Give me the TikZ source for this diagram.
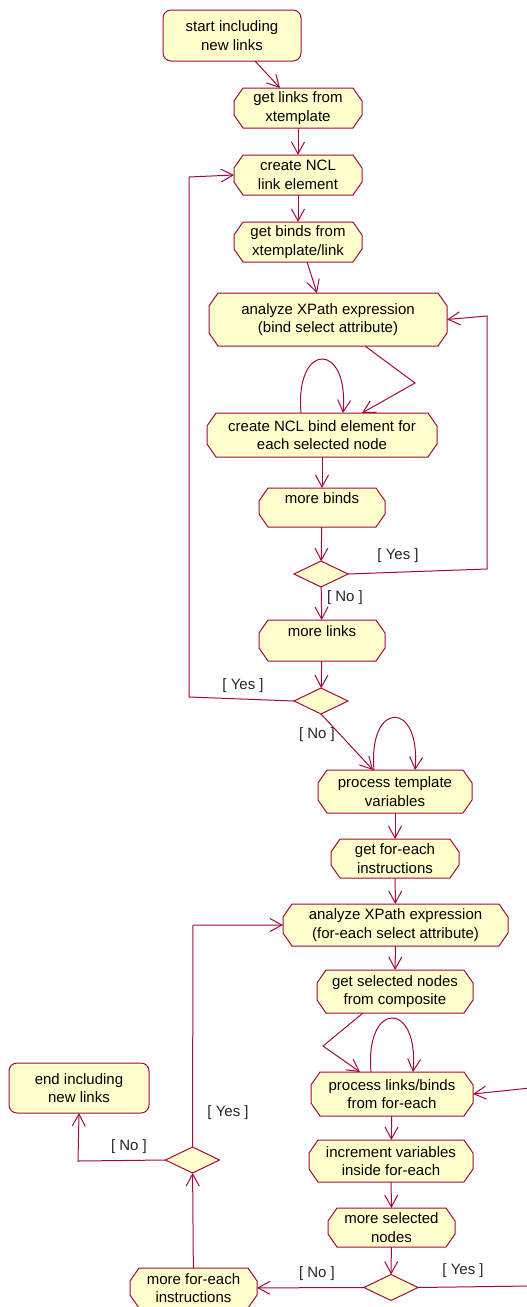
\documentclass[tikz,border=0pt]{standalone}
\usepackage{fontspec}
\setmainfont{Liberation Sans}
\usetikzlibrary{shapes.geometric,arrows.meta,backgrounds}
\definecolor{roseline}{RGB}{160,10,60}
\definecolor{rosefill}{RGB}{255,255,204}
\begin{document}
\begin{tikzpicture}[x=1pt,y=-1pt,line width=1pt,inner sep=0pt,outer sep=0pt,
    font=\fontsize{15}{18.7}\selectfont,
    act/.style={rectangle,align=center},
    actshape/.style={draw=roseline,fill=rosefill,line width=1pt},
    startend/.style={rectangle,rounded corners=8pt,draw=roseline,fill=rosefill,align=center},
    decision/.style={diamond,draw=roseline,fill=rosefill,minimum width=54pt,minimum height=26pt},
    flow/.style={draw=roseline,-{Straight Barb[length=12pt,width=13pt,line width=1pt]}},
    guard/.style={text=black!85}]
  \useasboundingbox (0,0) rectangle (527,1307);
  % left column
  \node[startend, minimum width=138pt, minimum height=51pt] (start) at (232,35.5) {start including\\new links};
  \node[act, minimum width=128pt, minimum height=40pt] (getlinks) at (298,108) {get links from\\xtemplate};
  \node[act, minimum width=128pt, minimum height=40pt] (newlink) at (298,175) {create NCL\\link element};
  \node[act, minimum width=128pt, minimum height=40pt] (getbinds) at (298,242) {get binds from\\xtemplate/link};
  \node[act, minimum width=238pt, minimum height=53pt] (bindxpath) at (328,319.5) {analyze XPath expression\\(bind select attribute)};
  \node[act, minimum width=230pt, minimum height=44pt] (newbind) at (322,435) {create NCL bind element for\\each selected node};
  \node[act, minimum width=126pt, minimum height=39pt] (morebinds) at (322,507.5) {more binds\\\mbox{}};
  \node[decision] (d1) at (321,574) {};
  \node[act, minimum width=126pt, minimum height=41pt] (morelinks) at (322,640.5) {more links\\\mbox{}};
  \node[decision] (d2) at (321,701) {};
  % right column
  \node[act, minimum width=154pt, minimum height=43pt] (vars) at (395,791.5) {process template\\variables};
  \node[act, minimum width=128pt, minimum height=39pt] (getforeach) at (395,858.5) {get for-each\\instructions};
  \node[act, minimum width=225pt, minimum height=42pt] (eachxpath) at (395.5,925) {analyze XPath expression\\(for-each select attribute)};
  \node[act, minimum width=156pt, minimum height=43pt] (selnodes) at (395,991.5) {get selected nodes\\from composite};
  \node[act, minimum width=162pt, minimum height=44pt] (eachlinks) at (392,1094) {process links/binds\\from for-each};
  \node[act, minimum width=164pt, minimum height=42pt] (incvars) at (391,1161) {increment variables\\inside for-each};
  \node[act, minimum width=127pt, minimum height=39pt] (moresel) at (391.5,1227.5) {more selected\\nodes};
  \node[decision] (d4) at (391,1287.5) {};
  \node[act, minimum width=127pt, minimum height=40pt] (moreeach) at (193.5,1288) {more for-each\\instructions};
  \node[decision] (d3) at (192.5,1160) {};
  \node[startend, minimum width=140pt, minimum height=50pt] (stop) at (79,1088) {end including\\new links};
  % activity outlines behind the texts
  \begin{scope}[on background layer]
    \foreach \n in {getlinks,newlink,getbinds,bindxpath,newbind,morebinds,morelinks,
        vars,getforeach,eachxpath,selnodes,eachlinks,incvars,moresel,moreeach}
      \draw[actshape] ([xshift=9pt]\n.north west) -- ([xshift=-9pt]\n.north east)
        -- ([yshift=-13pt]\n.north east) -- ([yshift=13pt]\n.south east)
        -- ([xshift=-9pt]\n.south east) -- ([xshift=9pt]\n.south west)
        -- ([yshift=13pt]\n.south west) -- ([yshift=-13pt]\n.north west) -- cycle;
  \end{scope}
  \path%
    ([xshift=23pt]start.south) edge [flow] node {} ([xshift=-18pt]getlinks.north)
    (getlinks) edge [flow] node {} (newlink)
    (newlink) edge [flow] node {} (getbinds)
    ([xshift=9pt]getbinds.south) edge [flow] node {} ([xshift=-11pt]bindxpath.north)
    (newbind) edge [flow] node {} (morebinds)
    (morebinds) edge [flow] node {} (d1)
    (d1) edge [flow] node {} (morelinks)
    (morelinks) edge [flow] node {} (d2)
    (d2.south) edge [flow] node {} ([xshift=-22pt]vars.north)
    (vars) edge [flow] node {} (getforeach)
    (getforeach) edge [flow] node {} (eachxpath)
    (eachxpath) edge [flow] node {} (selnodes)
    (eachlinks) edge [flow] node {} (incvars)
    (incvars) edge [flow] node {} (moresel)
    (moresel) edge [flow] node {} (d4)
    (d4) edge [flow] node {} (moreeach)
    (moreeach) edge [flow] node {} (d3);
  \draw[flow] ([xshift=37pt]bindxpath.south) -- (415,383) -- ([xshift=40pt]newbind.north);
  \draw[flow] ([xshift=-21pt]newbind.north) to[out=95,in=85,looseness=4.4] ([xshift=21pt]newbind.north);
  \draw[flow] (d1.east) -- (487,569) -- (487,316) -- (bindxpath.east);
  \draw[flow] (d2.west) -- (189,697) -- (189,177) -- (newlink.west);
  \draw[flow] ([xshift=-21pt]vars.north) to[out=95,in=85,looseness=4.4] ([xshift=20pt]vars.north);
  \draw[flow] ([xshift=-32pt]selnodes.south) -- (323,1046) -- ([xshift=-32pt]eachlinks.north);
  \draw[flow] ([xshift=-21pt]eachlinks.north) to[out=95,in=85,looseness=4.4] ([xshift=21pt]eachlinks.north);
  \draw[flow] (d4.east) -- (530,1286) -- (530,1088) -- (eachlinks.east);
  \draw[flow] (d3.north) -- (193,925) -- (eachxpath.west);
  \draw[flow] (d3.west) -- (78,1161) -- (stop.south);
  % guards
  \node[guard] (g1) at (398,556) {[ Yes ]};
  \node[guard] (g2) at (345,598) {[ No ]};
  \node[guard] (g3) at (243,686) {[ Yes ]};
  \node[guard] (g4) at (317,735) {[ No ]};
  \node[guard] (g5) at (463,1271) {[ Yes ]};
  \node[guard] (g6) at (317,1274) {[ No ]};
  \node[guard] (g7) at (228,1113) {[ Yes ]};
  \node[guard] (g8) at (129,1147) {[ No ]};
\end{tikzpicture}
\end{document}
